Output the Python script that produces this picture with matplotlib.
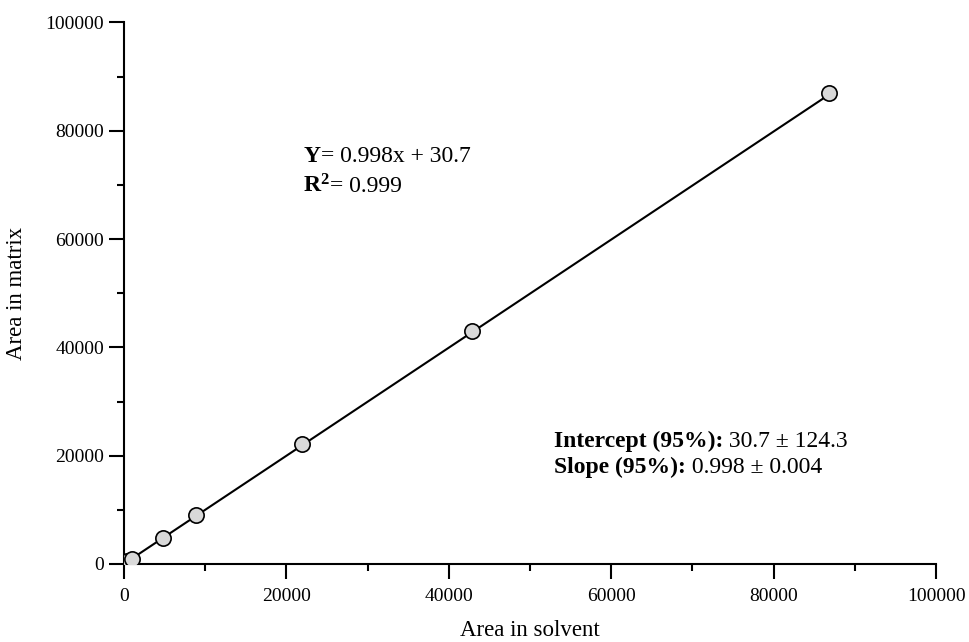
import matplotlib
matplotlib.use('Agg')
import matplotlib.pyplot as plt
import numpy as np
from matplotlib.ticker import MultipleLocator

plt.rcParams['font.family'] = 'Liberation Serif'
plt.rcParams['mathtext.fontset'] = 'custom'
plt.rcParams['mathtext.rm'] = 'Liberation Serif'
plt.rcParams['mathtext.bf'] = 'Liberation Serif:bold'

# points
area_solvent = [400, 985, 4760, 8870, 21900, 42860, 86800]
area_matrix = [550, 920, 4740, 9040, 22140, 43000, 86900]
slope = 0.998
intercept = 30.7

fig = plt.figure(figsize=(9.69, 6.42), dpi=100)
ax = fig.add_axes([0.128, 0.1215, 0.838, 0.8435])

xs = np.array([0, max(area_solvent)])
ax.plot(xs, slope * xs + intercept, color='black', lw=1.5, zorder=2)
ax.plot(area_solvent, area_matrix, 'o', ms=11, mfc='#d9d9d9', mec='black', mew=1.2, zorder=3)

ax.set_xlim(0, 100000)
ax.set_ylim(0, 100000)
ax.xaxis.set_major_locator(MultipleLocator(20000))
ax.xaxis.set_minor_locator(MultipleLocator(10000))
ax.yaxis.set_major_locator(MultipleLocator(20000))
ax.yaxis.set_minor_locator(MultipleLocator(10000))
ax.tick_params(which='major', length=11, width=1.5, labelsize=14)
ax.tick_params(axis='x', which='major', pad=6)
ax.tick_params(axis='y', which='major', pad=3.5)
ax.tick_params(which='minor', length=5, width=1.5)
for s in ['top', 'right']:
    ax.spines[s].set_visible(False)
for s in ['left', 'bottom']:
    ax.spines[s].set_linewidth(1.5)

# axis titles
fig.text(530 / 969, 5.5 / 642, 'Area in solvent', fontsize=16.5, ha='center', va='baseline')
ax.set_ylabel('Area in matrix', fontsize=16.5, labelpad=13)

# equation text
fs = 17
t = ax.text(22000, 74170, r'$\mathbf{Y}$', fontsize=fs, va='baseline')
ax.annotate('= 0.998x + 30.7', xy=(1, 0), xycoords=t, va='bottom', fontsize=fs)
t = ax.text(22000, 68630, r'$\mathbf{R^2}$', fontsize=fs, va='baseline')
ax.annotate('= 0.999', xy=(1, 0), xycoords=t, va='bottom', fontsize=fs)

t = ax.text(52950, 21590, 'Intercept (95%):', fontsize=fs, fontweight='bold', va='baseline')
ax.annotate(' 30.7 ± 124.3', xy=(1, 0), xycoords=t, va='bottom', fontsize=fs)
t = ax.text(52950, 16790, 'Slope (95%):', fontsize=fs, fontweight='bold', va='baseline')
ax.annotate(' 0.998 ± 0.004', xy=(1, 0), xycoords=t, va='bottom', fontsize=fs)

fig.savefig('out.png', dpi=100)
